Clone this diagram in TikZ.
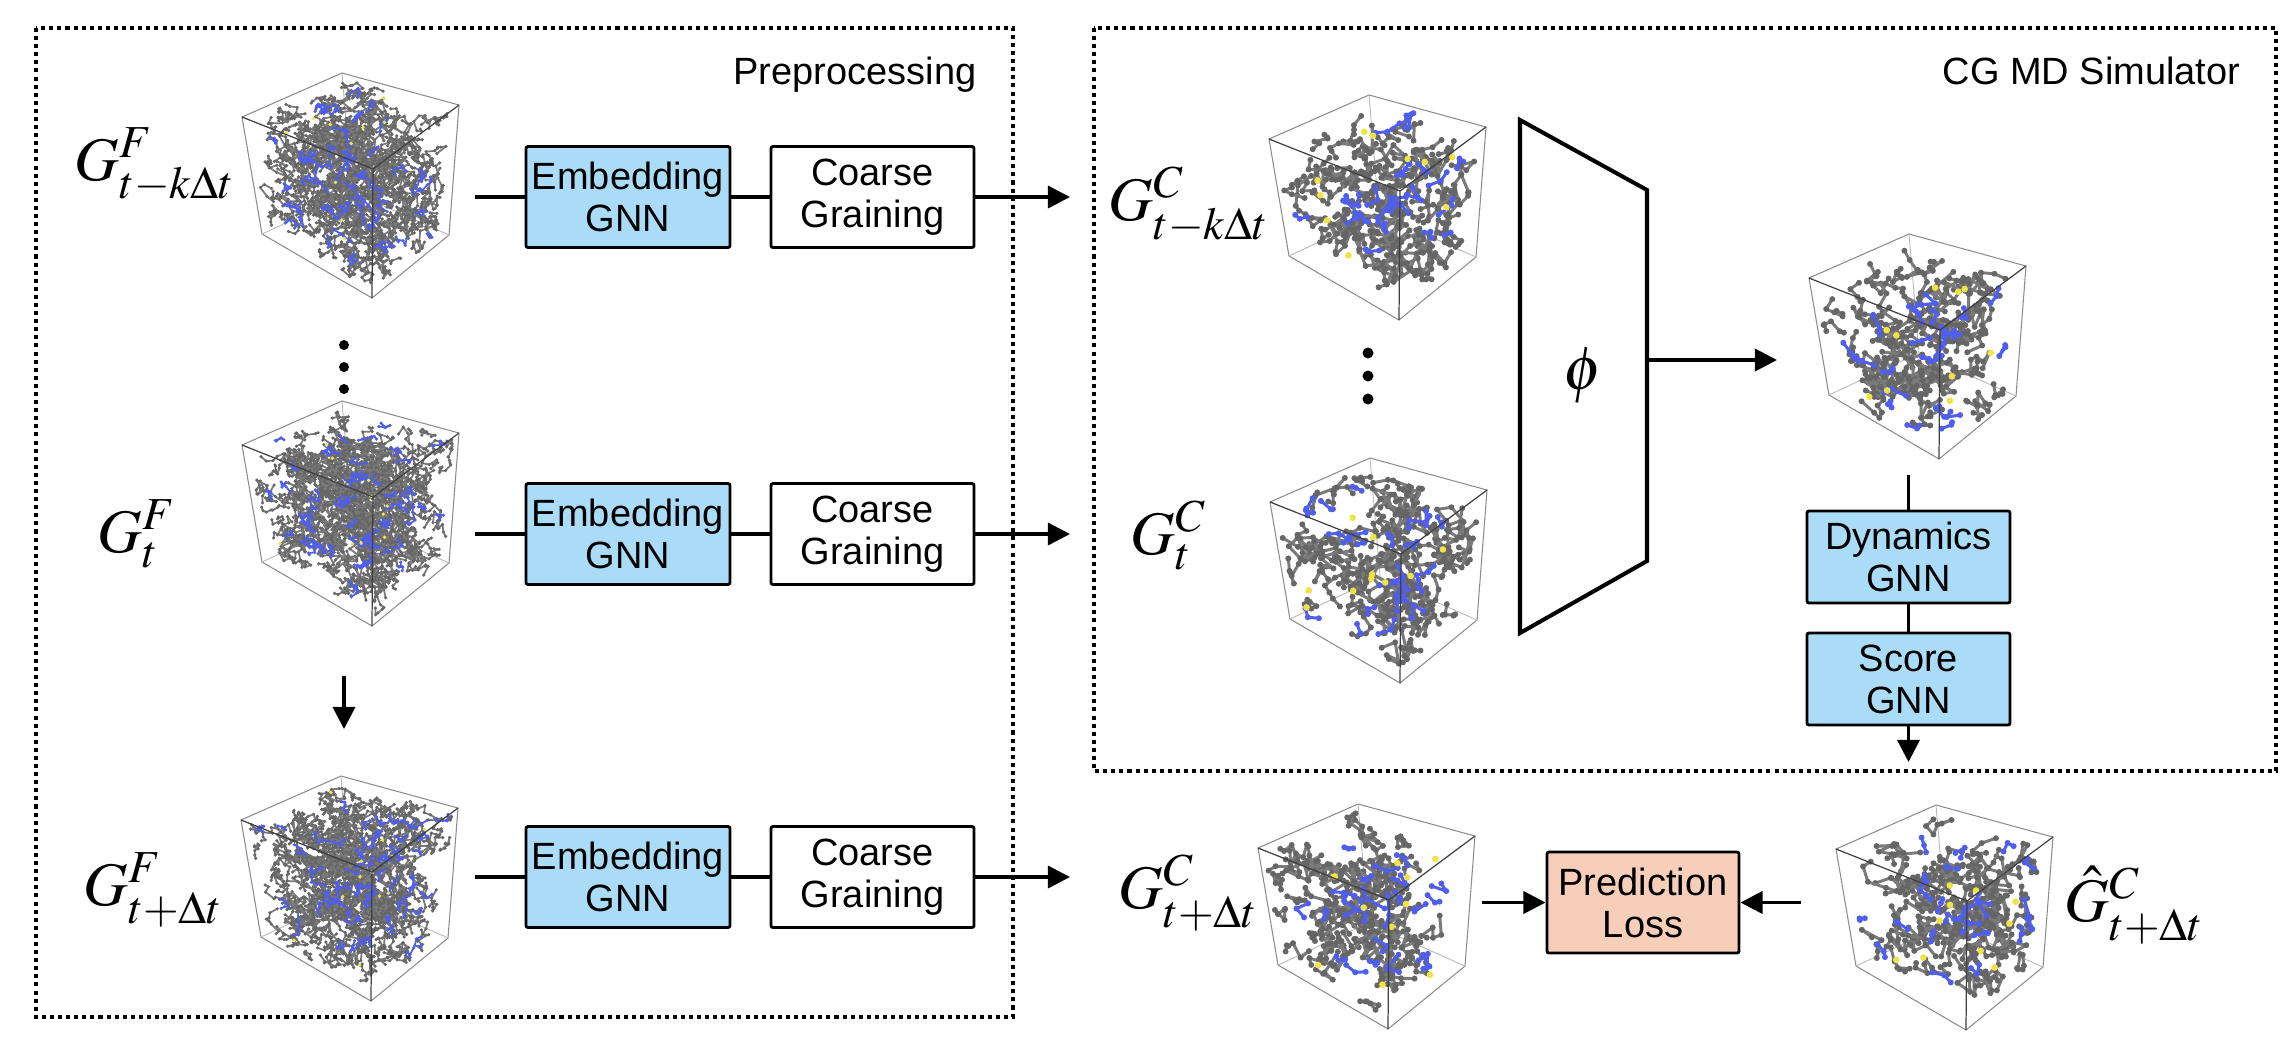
\documentclass[tikz,border=0pt]{standalone}
\usepackage{mathptmx}
\usepackage[no-math]{fontspec}
\setmainfont{Liberation Serif}
\setsansfont{Liberation Sans}
\usetikzlibrary{arrows.meta}

\definecolor{gnnblue}{RGB}{170,220,248}
\definecolor{losspeach}{RGB}{247,206,186}
\definecolor{molgray}{RGB}{102,102,102}
\definecolor{bondgray}{RGB}{122,122,122}
\definecolor{molblue}{RGB}{80,94,236}
\definecolor{molyellow}{RGB}{238,228,70}

% random-walk molecule machinery (unit cube -> projected box, relative to top-left vertex)
\def\mcProj{%
  \pgfmathsetmacro\mcX{(1-\mcW)*(131*\mcU+100*\mcV-14*\mcU*\mcV)+\mcW*(20+110*\mcU+90*\mcV-13*\mcU*\mcV)}\global\let\mcX\mcX
  \pgfmathsetmacro\mcY{(1-\mcW)*(52*\mcU-44*\mcV-20*\mcU*\mcV)+\mcW*(117+64*\mcU-42*\mcV-21*\mcU*\mcV)}\global\let\mcY\mcY}
\def\mcStart{%
  \pgfmathsetmacro\mcU{0.03+0.94*rnd}\global\let\mcU\mcU
  \pgfmathsetmacro\mcV{0.03+0.94*rnd}\global\let\mcV\mcV
  \pgfmathsetmacro\mcW{0.03+0.94*rnd}\global\let\mcW\mcW
  \mcProj}
\def\mcStep#1{%
  \pgfmathsetmacro\mcU{min(0.97,max(0.03,\mcU+#1*rand))}\global\let\mcU\mcU
  \pgfmathsetmacro\mcV{min(0.97,max(0.03,\mcV+#1*rand))}\global\let\mcV\mcV
  \pgfmathsetmacro\mcW{min(0.97,max(0.03,\mcW+#1*rand))}\global\let\mcW\mcW
  \mcProj}
% #1 chains, #2 beads per chain, #3 step, #4 bead colour, #5 bond colour, #6 bead diameter, #7 bond width
\newcommand\molchains[7]{%
  \foreach \mci in {1,...,#1}{%
    \mcStart
    \xdef\mcPath{(\mcX,\mcY)}%
    \xdef\mcDots{(\mcX,\mcY)--(\mcX,\mcY)}%
    \foreach \mcj in {2,...,#2}{%
      \mcStep{#3}%
      \xdef\mcPath{\mcPath--(\mcX,\mcY)}%
      \xdef\mcDots{\mcDots(\mcX,\mcY)--(\mcX,\mcY)}%
    }%
    \draw[#5,line width=#7,line join=round] \mcPath;
    \draw[#4,line width=#6,line cap=round] \mcDots;
  }}
\newcommand\moldots[3]{%
  \xdef\mcDots{}%
  \foreach \mci in {1,...,#1}{\mcStart\xdef\mcDots{\mcDots(\mcX,\mcY)--(\mcX,\mcY)}}%
  \draw[#2,line width=#3,line cap=round] \mcDots;}
\newcommand\cubeback{%
  \draw[cubeln] (0,0) -- (100,-44) -- (217,-12) -- (207,118) -- (130,181) -- (20,117) -- cycle;
  \draw[cubehid] (100,-44) -- (110,75) (20,117) -- (110,75) -- (207,118);}
\newcommand\cubefront{%
  \draw[cubefr] (0,0) -- (131,52) -- (217,-12) (131,52) -- (130,181);}
\newcommand\finecube[3]{%
  \begin{scope}[shift={(#1,#2)}]
    \pgfmathsetseed{#3}
    \cubeback
    \molchains{420}{8}{0.055}{molgray}{bondgray}{1.0pt}{0.5pt}
    \molchains{62}{5}{0.045}{molblue}{molblue}{1.0pt}{0.5pt}
    \moldots{10}{molyellow}{1.1pt}
    \cubefront
  \end{scope}}
\newcommand\coarsecube[3]{%
  \begin{scope}[shift={(#1,#2)}]
    \pgfmathsetseed{#3}
    \cubeback
    \molchains{92}{6}{0.1}{molgray}{bondgray}{1.7pt}{0.85pt}
    \molchains{24}{3}{0.09}{molblue}{molblue}{1.7pt}{0.85pt}
    \moldots{10}{molyellow}{1.9pt}
    \cubefront
  \end{scope}}

\begin{document}
\begin{tikzpicture}[x=0.01cm,y=-0.01cm,
  cubeln/.style={draw=black!45,line width=0.3pt},
  cubehid/.style={draw=black!28,line width=0.25pt},
  cubefr/.style={draw=black!75,line width=0.35pt},
  region/.style={line width=1.15pt,dash pattern=on 1.15pt off 1.15pt},
  title/.style={font=\sffamily\fontsize{10.8}{13}\selectfont,inner sep=0pt},
  mlabel/.style={font=\fontsize{17.6}{21}\selectfont,inner sep=0pt},
  box/.style={draw=black,line width=0.8pt,rounded corners=0.6pt,align=center,inner sep=0pt,
    font=\sffamily\fontsize{10.8}{11.95}\selectfont},
  embed/.style={box,fill=gnnblue,minimum width=2.04cm,minimum height=1.01cm},
  plain/.style={box,fill=white,minimum width=2.03cm,minimum height=1.01cm},
  gnn/.style={box,fill=gnnblue,minimum width=2.03cm,minimum height=0.92cm},
  loss/.style={box,fill=losspeach,minimum width=1.92cm,minimum height=1.01cm},
  conn/.style={line width=0.95pt},
  arr/.style={conn,-{Triangle[length=6.3pt,width=6.3pt]}},
  trap/.style={line width=1.15pt,line join=miter},
  vdot/.style={circle,fill=black,inner sep=0pt,minimum size=0.1cm}]
\useasboundingbox (0,0) rectangle (2290,1038);

% regions
\draw[region] (36,28) rectangle (1013,1017);
\draw[region] (1094,28) rectangle (2276,771);
\node[title,anchor=base east] (pre) at (977,84) {Preprocessing};
\node[title,anchor=base east] (sim) at (2241,84) {CG MD Simulator};

% molecular boxes
\finecube{242}{117}{11}
\finecube{242}{445}{23}
\finecube{241}{820}{37}
\coarsecube{1269}{139}{41}
\coarsecube{1270}{502}{53}
\coarsecube{1809}{278}{67}
\coarsecube{1258}{848}{71}
\coarsecube{1836}{849}{83}

% labels
\node[mlabel,anchor=base west] (lf1) at (74,180) {$G^{F}_{t-k\Delta t}$};
\node[mlabel,anchor=base west] (lf2) at (97,552) {$G^{F}_{t}$};
\node[mlabel,anchor=base west] (lf3) at (83,905) {$G^{F}_{t+\Delta t}$};
\node[mlabel,anchor=base west] (lc1) at (1108,220) {$G^{C}_{t-k\Delta t}$};
\node[mlabel,anchor=base west] (lc2) at (1130,554) {$G^{C}_{t}$};
\node[mlabel,anchor=base west] (lc3) at (1118,908) {$G^{C}_{t+\Delta t}$};
\node[mlabel,anchor=base west] (lc4) at (2064,921) {$\hat{G}^{C}_{t+\Delta t}$};

% vertical dots
\node[vdot] (ld1) at (344,345) {};
\node[vdot] (ld2) at (344,367) {};
\node[vdot] (ld3) at (344,389) {};
\node[vdot,minimum size=0.11cm] (rd1) at (1368,353) {};
\node[vdot,minimum size=0.11cm] (rd2) at (1368,376) {};
\node[vdot,minimum size=0.11cm] (rd3) at (1368,399) {};

% boxes
\node[embed] (e1) at (628,197) {Embedding\\GNN};
\node[plain] (g1) at (872.5,197) {Coarse\\Graining};
\node[embed] (e2) at (628,534) {Embedding\\GNN};
\node[plain] (g2) at (872.5,534) {Coarse\\Graining};
\node[embed] (e3) at (628,877) {Embedding\\GNN};
\node[plain] (g3) at (872.5,877) {Coarse\\Graining};
\node[gnn] (dyn) at (1908.5,557) {Dynamics\\GNN};
\node[gnn] (score) at (1908.5,679) {Score\\GNN};
\node[loss] (loss) at (1643,902.5) {Prediction\\Loss};

% phi aggregator
\draw[trap] (1520,120) -- (1647,190) -- (1647,561) -- (1520,633) -- cycle;
\node[mlabel] (phi) at (1583,376) {$\phi$};

% connector end points
\coordinate (f1o) at (475,197);
\coordinate (f2o) at (475,534);
\coordinate (f3o) at (475,877);
\coordinate (c1i) at (1070,197);
\coordinate (c2i) at (1070,534);
\coordinate (c3i) at (1070,877);
\coordinate (trapE) at (1647,360);
\coordinate (cmi) at (1777,360);
\coordinate (cmo) at (1908.5,475);
\coordinate (simo) at (1908.5,762);
\coordinate (c3o) at (1482,902.5);
\coordinate (c4o) at (1801,902.5);
\coordinate (f2d) at (344,676);
\coordinate (f3u) at (344,729);

% connectors
\draw[conn] (f1o) -- (e1);
\draw[conn] (e1) -- (g1);
\draw[arr] (g1) -- (c1i);
\draw[conn] (f2o) -- (e2);
\draw[conn] (e2) -- (g2);
\draw[arr] (g2) -- (c2i);
\draw[conn] (f3o) -- (e3);
\draw[conn] (e3) -- (g3);
\draw[arr] (g3) -- (c3i);
\draw[arr] (trapE) -- (cmi);
\draw[conn] (cmo) -- (dyn);
\draw[conn] (dyn) -- (score);
\draw[arr] (score) -- (simo);
\draw[arr] (c3o) -- (loss);
\draw[arr] (c4o) -- (loss);
\draw[arr] (f2d) -- (f3u);
\end{tikzpicture}
\end{document}
